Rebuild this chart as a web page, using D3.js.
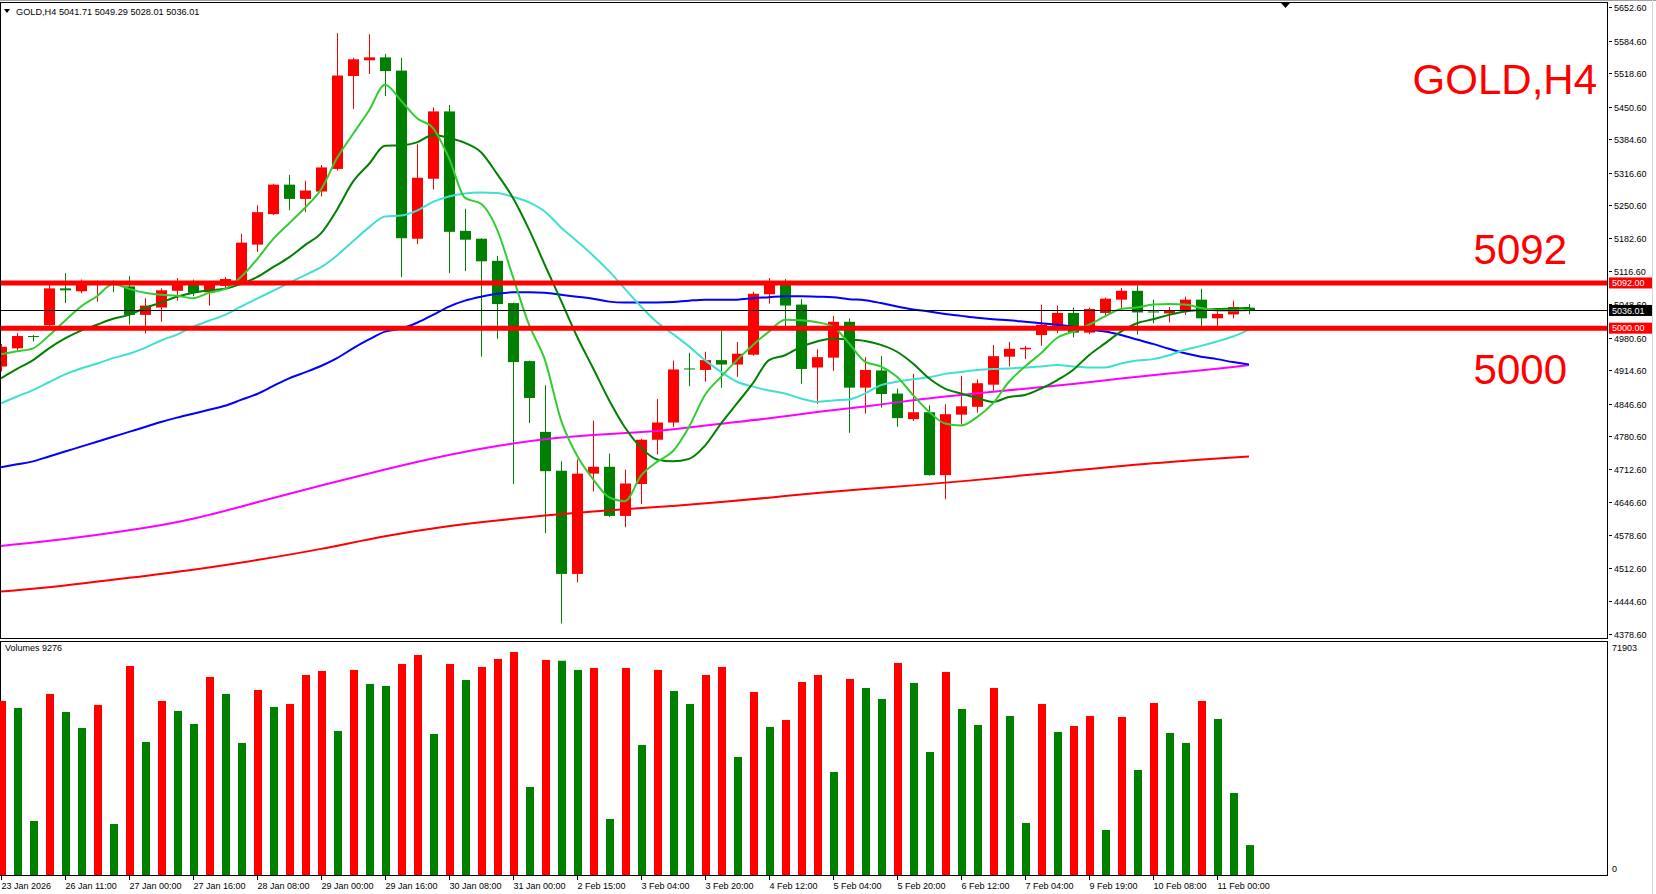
<!DOCTYPE html>
<html><head><meta charset="utf-8">
<script src="https://cdn.jsdelivr.net/npm/d3@7"></script>
<style>
body{margin:0;background:#fff;}
svg{display:block;font-family:"Liberation Sans",Arial,sans-serif;}
</style>
</head><body>
<svg id="c" width="1656" height="894"></svg>
<script>
// ---------------- DATA ----------------
const symbolTitle = "GOLD,H4";
const lastOHLC = [5041.71, 5049.29, 5028.01, 5036.01];
const openP  = [4922,4959,4984,5006,5081,5075,5090,5093,5085,5027,5042,5076,5088,5073,5086,5096,5170,5232,5292,5263,5278,5324,5513,5545,5551,5524,5182,5304,5441,5198,5182,5137,5051,4933,4789,4710,4500,4704,4718,4618,4683,4773,4808,4918,4915,4935,4926,4946,5069,5088,5048,4920,4940,5013,4879,4914,4867,4815,4829,4701,4824,4840,4885,4942,4957,4986,4998,5031,4991,5031,5058,5076,5034,5030,5037,5058,5020,5028,5041.71];
const highP  = [4968,4990,4986,5088,5112,5099,5097,5097,5106,5061,5081,5102,5099,5096,5104,5192,5250,5294,5312,5300,5332,5600,5550,5598,5558,5550,5374,5449,5454,5243,5183,5147,5052,4934,4884,4729,4733,4812,4745,4712,4775,4856,4934,4950,4952,4995,4972,5074,5102,5100,5059,4957,5025,5020,4941,4943,4877,4907,4843,4845,4903,4896,4966,4972,4964,5048,5046,5042,5042,5062,5082,5087,5058,5043,5064,5080,5041,5056,5049.29];
const lowP   = [4912,4954,4973,5002,5051,5071,5054,5073,5007,4989,5013,5056,5065,5046,5080,5092,5155,5230,5240,5236,5268,5321,5446,5517,5472,5104,5171,5282,5112,5116,4942,4978,4683,4807,4583,4399,4483,4668,4616,4595,4642,4743,4799,4882,4891,4879,4901,4944,5050,4998,4887,4846,4913,4787,4826,4838,4799,4811,4700,4652,4804,4828,4873,4922,4937,4964,4990,4981,4988,5027,5041,4987,5010,5012,5027,5000,5003,5020,5028.01];
const closeP = [4962,4984,4982,5081,5077,5094,5093,5090,5027,5046,5077,5095,5072,5092,5100,5174,5236,5292,5263,5280,5327,5514,5547,5551,5523,5183,5306,5441,5196,5180,5136,5049,4931,4858,4709,4500,4704,4718,4618,4684,4773,4808,4916,4916,4935,4926,4948,5070,5090,5046,4917,4941,5013,4879,4915,4866,4817,4829,4701,4825,4841,4888,4943,4958,4960,5007,5031,4991,5039,5060,5076,5032,5032,5036,5058,5020,5029,5043,5036.01];
const volumes = [53940,51770,16740,56110,50530,45570,52700,15810,64790,41230,53940,50840,46810,61380,56110,40920,57350,52080,53010,62000,63240,44640,63550,59210,58590,65410,68200,43710,65410,60450,64480,66960,69130,27280,66650,66400,63550,64170,17360,64170,40300,63550,57040,53010,62000,64480,36580,56730,45880,48050,59830,62000,31930,60760,57970,54560,65720,59520,38130,62930,51460,46500,57970,49290,16120,53010,44330,46190,49290,13950,48980,32550,53320,44020,40920,53940,48360,25420,9276];
const volumeMax = 71903;
// moving averages
const maLime = [4947,4953,4959,4985,5015,5044,5065,5090,5080,5072,5068,5066,5061,5072,5080,5104,5140,5181,5213,5245,5282,5346,5395,5443,5495,5463,5427,5407,5346,5265,5253,5201,5104,5007,4935,4813,4741,4693,4656,4648,4700,4728,4750,4799,4864,4901,4935,4966,4993,5017,5016,5012,5003,4969,4932,4922,4901,4864,4830,4806,4802,4819,4847,4891,4922,4949,4980,4993,5007,5024,5039,5042,5048,5049,5048,5041,5036,5036,5037];
const maDarkGreen = [4898,4917,4935,4959,4979,4995,5007,5019,5027,5041,5052,5064,5072,5077,5080,5090,5104,5124,5144,5169,5193,5241,5298,5334,5371,5372,5378,5393,5387,5377,5358,5314,5265,5201,5128,5056,4983,4919,4854,4798,4757,4733,4729,4734,4761,4806,4847,4888,4935,4945,4962,4973,4979,4977,4974,4966,4952,4928,4898,4877,4867,4858,4850,4860,4864,4877,4894,4915,4945,4969,4993,5010,5018,5027,5034,5037,5039,5040,5041];
const maTurquoise = [4847,4861,4874,4890,4906,4918,4928,4939,4948,4960,4975,4987,5003,5015,5027,5044,5060,5076,5092,5108,5124,5148,5177,5205,5227,5229,5239,5257,5268,5274,5276,5275,5267,5256,5237,5205,5177,5148,5116,5080,5044,5012,4988,4963,4935,4911,4891,4881,4873,4867,4857,4850,4853,4855,4867,4884,4891,4896,4900,4907,4911,4915,4917,4918,4920,4922,4925,4922,4920,4920,4928,4934,4937,4945,4956,4964,4973,4983,4997];
const maBlue = [4717,4723,4729,4739,4749,4759,4769,4779,4789,4799,4809,4818,4826,4834,4842,4854,4866,4882,4898,4910,4923,4939,4959,4977,4993,4999,5011,5027,5044,5056,5064,5070,5073,5073,5072,5068,5064,5060,5054,5052,5052,5052,5053,5056,5058,5058,5058,5061,5063,5065,5065,5064,5063,5059,5057,5051,5044,5038,5034,5029,5025,5021,5018,5016,5013,5010,5007,5003,4997,4993,4986,4977,4968,4958,4949,4942,4937,4931,4926];
const maMagentaIdx = [0,4,8,12,16,20,24,28,31,34,37,40,42,45,48,51,54,57,60,64,67,70,73,76,78];
const maMagenta    = [4557,4570,4588,4610,4646,4680,4713,4743,4761,4775,4783,4788,4794,4806,4816,4830,4840,4854,4864,4877,4886,4898,4908,4917,4925];
const maRedIdx = [0,4,8,12,16,20,24,28,31,34,37,40,42,45,48,51,54,57,60,66,72,78];
const maRed    = [4464,4476,4492,4508,4528,4550,4578,4598,4609,4619,4627,4634,4638,4646,4655,4665,4673,4680,4688,4707,4726,4739];
const levels = [5092, 5000];
const bidPrice = 5036.01;
const priceTicks = [5652.60,5584.60,5518.60,5450.60,5384.60,5316.60,5250.60,5182.60,5116.60,5048.60,4980.60,4914.60,4846.60,4780.60,4712.60,4646.60,4578.60,4512.60,4444.60,4378.60];
const timeTickIdx = [0,4,8,12,16,20,24,28,32,36,40,44,48,52,56,60,64,68,72,76];
const timeTickLabels = ["23 Jan 2026","26 Jan 11:00","27 Jan 00:00","27 Jan 16:00","28 Jan 08:00","29 Jan 00:00","29 Jan 16:00","30 Jan 08:00","31 Jan 00:00","2 Feb 15:00","3 Feb 04:00","3 Feb 20:00","4 Feb 12:00","5 Feb 04:00","5 Feb 20:00","6 Feb 12:00","7 Feb 04:00","9 Feb 19:00","10 Feb 08:00","11 Feb 00:00"];

// ---------------- LAYOUT ----------------
const W = 1656, H = 894;
const axisX = 1607;
const mainTop = 2, mainBottom = 638;
const volTop = 641, volBottom = 875;
const UP = "#ff0000", DOWN = "#008000";

const svg = d3.select("#c");
svg.append("rect").attr("width", W).attr("height", H).attr("fill", "#fff");

const n = closeP.length;
const x = d3.scaleLinear().domain([0, 78]).range([1, 1249]);
const y = d3.scaleLinear().domain([4378.6, 5652.6]).range([633.6, 7.4]);
const yv = d3.scaleLinear().domain([0, volumeMax]).range([875, 643]);

const bars = d3.range(n).map(i => ({i, o: openP[i], h: highP[i], l: lowP[i], c: closeP[i], v: volumes[i]}));

// frames
svg.append("line").attr("x1",0).attr("x2",W).attr("y1",0.5).attr("y2",0.5).attr("stroke","#a0a0a0");
svg.append("rect").attr("x",0.5).attr("y",mainTop+0.5).attr("width",axisX).attr("height",mainBottom-mainTop).attr("fill","none").attr("stroke","#000");
svg.append("rect").attr("x",0.5).attr("y",volTop+0.5).attr("width",axisX).attr("height",volBottom-volTop).attr("fill","none").attr("stroke","#000");
svg.append("line").attr("x1",1652.5).attr("x2",1652.5).attr("y1",0).attr("y2",H).attr("stroke","#d8d8d8");

const gMain = svg.append("g");
svg.append("clipPath").attr("id","cm").append("rect").attr("x",1).attr("y",mainTop+1).attr("width",axisX-1).attr("height",mainBottom-mainTop-1);
const gC = gMain.append("g").attr("clip-path","url(#cm)");

// candles
const cg = gC.append("g");
cg.selectAll("line.w").data(bars).join("line").attr("class","w")
  .attr("x1", d => Math.round(x(d.i))+0.5).attr("x2", d => Math.round(x(d.i))+0.5)
  .attr("y1", d => y(d.h)).attr("y2", d => y(d.l))
  .attr("stroke", d => d.c >= d.o ? UP : DOWN).attr("stroke-width",1);
cg.selectAll("rect.b").data(bars).join("rect").attr("class","b")
  .attr("x", d => Math.round(x(d.i)) - 5).attr("width", 11)
  .attr("y", d => y(Math.max(d.o, d.c)))
  .attr("height", d => Math.max(1, y(Math.min(d.o, d.c)) - y(Math.max(d.o, d.c))))
  .attr("fill", d => d.c >= d.o ? UP : DOWN);

// moving averages
function drawLine(idx, vals, color, curve){
  const pts = idx.map((k,j) => [x(k), y(vals[j])]);
  gC.append("path").attr("d", d3.line().curve(curve || d3.curveLinear)(pts))
    .attr("fill","none").attr("stroke",color).attr("stroke-width",2).attr("stroke-linejoin","round");
}
const all = d3.range(n);
drawLine(maRedIdx, maRed, "#ff0000", d3.curveBasis);
drawLine(maMagentaIdx, maMagenta, "#ff00ff", d3.curveBasis);
drawLine(all, maBlue, "#0000ff", d3.curveMonotoneX);
drawLine(all, maTurquoise, "#40e0d0", d3.curveMonotoneX);
drawLine(all, maDarkGreen, "#008000", d3.curveMonotoneX);
drawLine(all, maLime, "#32cd32", d3.curveMonotoneX);

// horizontal levels and bid line
levels.forEach(v => {
  gC.append("line").attr("x1",0).attr("x2",axisX).attr("y1",y(v)).attr("y2",y(v))
    .attr("stroke","#ff0000").attr("stroke-width",5);
});
gC.append("line").attr("x1",0).attr("x2",axisX).attr("y1",Math.round(y(bidPrice))+0.5).attr("y2",Math.round(y(bidPrice))+0.5)
  .attr("stroke","#000").attr("stroke-width",1);

// price axis
const axG = svg.append("g").attr("font-size","9px").attr("fill","#000");
priceTicks.forEach(v => {
  const yy = Math.round(y(v)) + 0.5;
  axG.append("line").attr("x1",axisX+2).attr("x2",axisX+5).attr("y1",yy).attr("y2",yy).attr("stroke","#000");
  axG.append("text").attr("x",axisX+7).attr("y",yy).attr("dy","0.35em").text(v.toFixed(2));
});
function priceBox(v, fill){
  const yy = y(v);
  axG.append("rect").attr("x",axisX+2).attr("y",yy-5.5).attr("width",43).attr("height",11).attr("fill",fill);
  axG.append("text").attr("x",axisX+5).attr("y",yy).attr("dy","0.35em").attr("fill","#fff").text(v.toFixed(2));
}
levels.forEach(v => priceBox(v, "#ff0000"));
priceBox(bidPrice, "#000");

// volumes
const vg = svg.append("g");
vg.selectAll("rect").data(bars).join("rect")
  .attr("x", d => Math.round(x(d.i)) - 3).attr("width", 8)
  .attr("y", d => yv(d.v)).attr("height", d => yv(0) - yv(d.v))
  .attr("fill", d => (d.i > 0 && d.v < volumes[d.i-1]) ? DOWN : UP);
axG.append("text").attr("x",axisX+5).attr("y",648).attr("dy","0.35em").text(String(volumeMax));
axG.append("text").attr("x",axisX+5).attr("y",869).attr("dy","0.35em").text("0");
svg.append("text").attr("x",5).attr("y",651).attr("font-size","9px").text("Volumes " + volumes[n-1]);

// time axis
const tg = svg.append("g").attr("font-size","9px");
timeTickIdx.forEach((k,j) => {
  const xx = Math.round(x(k)) + 0.5;
  tg.append("line").attr("x1",xx).attr("x2",xx).attr("y1",volBottom+1).attr("y2",volBottom+5).attr("stroke","#000");
  tg.append("text").attr("x",xx).attr("y",889).text(timeTickLabels[j]);
});

// header
svg.append("path").attr("d","M4,9 L10,9 L7,13 Z").attr("fill","#000");
svg.append("text").attr("x",16).attr("y",15).attr("font-size","9.2px")
  .text(symbolTitle + "  " + lastOHLC.map(v => v.toFixed(2)).join(" "));
svg.append("path").attr("d","M1281,3 L1290,3 L1285.5,8 Z").attr("fill","#000");

// big annotations
svg.append("text").attr("x",1597).attr("y",94).attr("text-anchor","end").attr("font-size","42px").attr("fill","#ff0000").text(symbolTitle);
svg.append("text").attr("x",1567).attr("y",264).attr("text-anchor","end").attr("font-size","42px").attr("fill","#ff0000").text(String(levels[0]));
svg.append("text").attr("x",1567).attr("y",384).attr("text-anchor","end").attr("font-size","42px").attr("fill","#ff0000").text(String(levels[1]));
</script>
</body></html>
